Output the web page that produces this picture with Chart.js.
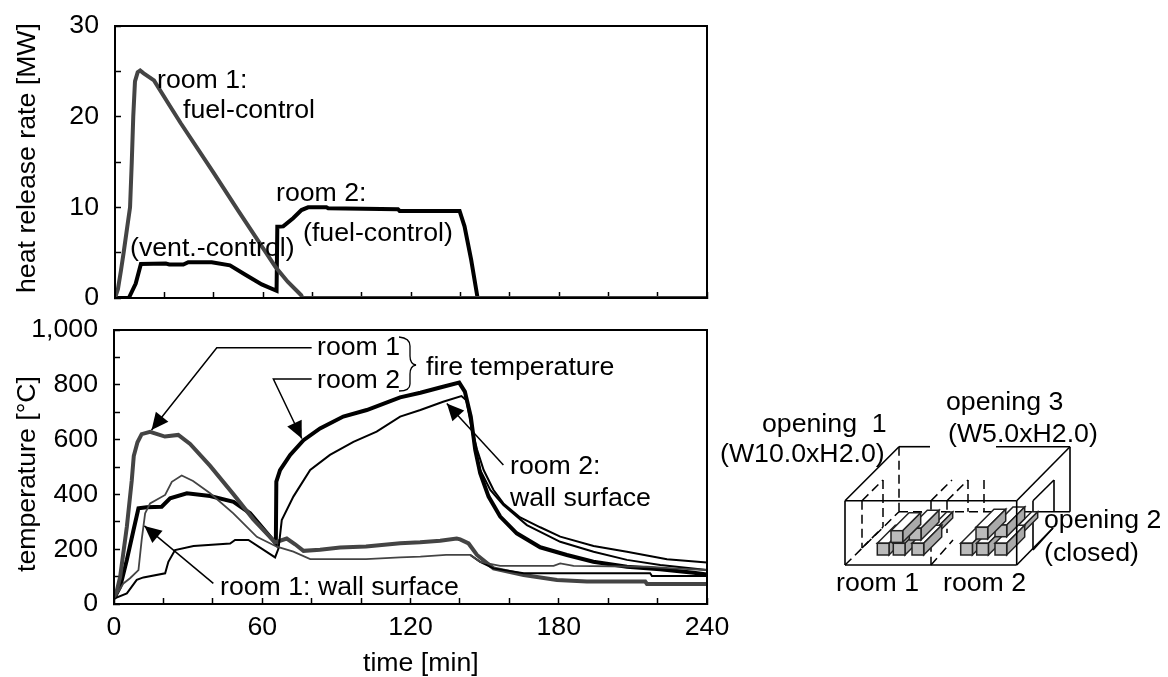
<!DOCTYPE html>
<html>
<head>
<meta charset="utf-8">
<title>Heat release rate and temperature</title>
<script src="https://cdn.jsdelivr.net/npm/chart.js@4"></script>
<style>
    html, body { margin: 0; padding: 0; background: #fff; }
    #page { position: relative; width: 1168px; height: 677px; overflow: hidden; }
    canvas, svg { position: absolute; }
    .note { position: absolute; font: 26.7px "Liberation Sans", Arial, sans-serif; line-height: 30px; white-space: pre; color: #000; }
    .ytitle { transform: translate(-50%, -50%) rotate(-90deg); }
</style>
</head>
<body>
<div id="page">
    <canvas id="hrrChart" width="745" height="320" style="left:0px;top:0px"></canvas>
    <canvas id="tempChart" width="745" height="362" style="left:0px;top:315px"></canvas>
    <svg id="sketch" width="1168" height="677" style="left:0px;top:0px"></svg>

    <div class="note ytitle" style="left:26px;top:158px">heat release rate [MW]</div>
    <div class="note ytitle" style="left:26px;top:474px">temperature [°C]</div>
    <div class="note" style="left:363px;top:647px">time [min]</div>

    <div class="note" style="left:157px;top:64px">room 1:</div>
    <div class="note" style="left:183px;top:94px">fuel-control</div>
    <div class="note" style="left:276px;top:177px">room 2:</div>
    <div class="note" style="left:303px;top:217px">(fuel-control)</div>
    <div class="note" style="left:130px;top:232px">(vent.-control)</div>

    <div class="note" style="left:317px;top:331px">room 1</div>
    <div class="note" style="left:317px;top:364px">room 2</div>
    <div class="note" style="left:426px;top:351px">fire temperature</div>
    <div class="note" style="left:510px;top:450px">room 2:</div>
    <div class="note" style="left:510px;top:482px">wall surface</div>
    <div class="note" style="left:220px;top:571px">room 1: wall surface</div>

    <div class="note" style="left:762px;top:408px">opening  1</div>
    <div class="note" style="left:720px;top:438px">(W10.0xH2.0)</div>
    <div class="note" style="left:946px;top:386px">opening 3</div>
    <div class="note" style="left:948px;top:418px">(W5.0xH2.0)</div>
    <div class="note" style="left:1044px;top:504px">opening 2</div>
    <div class="note" style="left:1044px;top:537px">(closed)</div>
    <div class="note" style="left:836px;top:567px">room 1</div>
    <div class="note" style="left:943px;top:567px">room 2</div>
</div>

<script>
// heat release rate [MW]
const hrrRoom1Time = [0, 0.4, 1.2, 2.4, 3.5, 5, 6.1, 6.8, 7.4, 8.1, 9.2, 10.2, 11.5, 15.8, 21.5, 26.6, 40, 50, 60, 65, 70, 75.5, 76, 240];
const hrrRoom1 = [0, 0, 1, 3, 5, 7.9, 10, 15, 20, 23.9, 24.9, 25.1, 24.8, 24, 21.5, 19.3, 13.8, 9.6, 5.5, 3.45, 1.8, 0.3, 0, 0];
const hrrRoom2Time = [0, 5.6, 8.4, 10.5, 20.6, 22, 27.7, 29.7, 39.2, 46.6, 52.7, 59.5, 65.5, 65.8, 68.2, 72.2, 75.6, 78.3, 85.7, 86.4, 114.7, 115.4, 139.7, 141.7, 144.4, 147, 240];
const hrrRoom2 = [0, 0, 1.6, 3.75, 3.8, 3.7, 3.7, 3.95, 3.95, 3.6, 2.6, 1.5, 0.8, 7.86, 7.9, 8.8, 9.7, 10, 10, 9.9, 9.8, 9.6, 9.6, 7.9, 4.2, 0, 0];

// temperatures [C]
const fireRoom1Time = [0, 1.2, 2.5, 5.2, 7.2, 8, 9.5, 11.2, 14.6, 20.6, 26, 30.8, 38.9, 48.3, 56.4, 65.2, 69.9, 73.3, 76.7, 83.4, 91.5, 102, 115.8, 123.9, 132, 138.7, 140.1, 143.5, 146.9, 153.6, 165.8, 179.3, 191.4, 215, 215.7, 240];
const fireRoom1 = [20, 50, 100, 282, 452, 540, 590, 620, 628, 611, 617, 584, 504, 401, 309, 225, 239, 218, 194, 198, 206, 210, 222, 225, 231, 239, 236, 221, 179, 130, 106, 88, 82, 82, 73, 73];
const wallRoom1Time = [0, 3.8, 6.5, 9.9, 11.2, 12.6, 14.6, 20.7, 23.4, 27.4, 32, 38.9, 48.3, 57.8, 65.9, 72.6, 79.4, 88.8, 102, 115.8, 124, 134.4, 144.2, 148.2, 156.3, 177.9, 180.6, 186, 215.7, 226.5, 240];
const wallRoom1 = [20, 75, 94, 124, 234, 331, 367, 398, 446, 469, 449, 404, 331, 245, 209, 191, 164, 164, 164, 170, 173, 179, 179, 154, 139, 139, 148, 139, 136, 130, 124];
const fireRoom2Time = [0, 2.5, 5.2, 7.9, 9.9, 13.2, 19.3, 22.7, 29.5, 38.9, 48.4, 55.1, 65.5, 65.7, 67.2, 71.3, 76.7, 83.4, 92.8, 102.3, 115.8, 124, 132, 139.7, 142, 144.4, 146.2, 148.2, 151.6, 156.3, 163, 172.5, 183.3, 194, 207.6, 221, 234.6, 240];
const fireRoom2 = [20, 63, 161, 270, 349, 353, 355, 386, 404, 394, 373, 331, 221, 447, 489, 544, 598, 641, 684, 708, 754, 771, 790, 808, 775, 684, 562, 477, 392, 319, 258, 207, 179, 154, 136, 127, 114, 108];
const wallRoom2Time = [0, 5.2, 9.2, 11.9, 20.7, 22, 24.7, 32.2, 47, 49, 54.4, 65.2, 66.6, 67.9, 72.6, 79.4, 87.4, 96.9, 106.3, 115.8, 124, 133.2, 140.6, 142.6, 144.6, 147, 149.6, 153.6, 157.6, 164.4, 172.5, 180.6, 194.1, 207.6, 223.8, 240];
const wallRoom2 = [20, 39, 88, 97, 112, 154, 197, 212, 221, 234, 234, 170, 203, 306, 392, 489, 544, 592, 629, 684, 708, 738, 759, 744, 647, 562, 489, 416, 367, 316, 280, 246, 212, 191, 163, 151];

// two more thin curves that only separate during the decay phase
const decayUpperTime = [144.6, 146.4, 148.2, 152.3, 157.6, 167.1, 180.6, 194.1, 207.6, 221.1, 240];
const decayUpper = [650, 550, 489, 416, 361, 288, 227, 191, 161, 142, 124];
const decayLowerTime = [144.2, 148.2, 153.6, 165.8, 217, 217.7, 240];
const decayLower = [179, 154, 130, 112, 112, 102, 102];

// leader lines of the lower plot as [time, temperature], the last point gets the arrow head
const leaderRoom1 = [[80, 935], [41.6, 935], [15.2, 635]];
const leaderRoom2 = [[80, 821], [64.5, 821], [76, 604]];
const leaderWall1 = [[40.2, 75], [12.3, 285]];
const leaderWall2 = [[157.6, 507], [134.7, 732]];

const FONT_FAMILY = '"Liberation Sans", Arial, sans-serif';
const FONT_SIZE = 26.7;
const DARK = "#444";

function toPoints(times, values) {
    return times.map((t, i) => ({x: t, y: values[i]}));
}

function lineDataset(times, values, color, width) {
    return {
        data: toPoints(times, values),
        borderColor: color,
        borderWidth: width,
        pointRadius: 0,
        tension: 0,
        fill: false
    };
}

// frame around the plot area
const framePlugin = {
    id: "frame",
    afterDatasetsDraw(chart) {
        const a = chart.chartArea;
        const ctx = chart.ctx;
        ctx.save();
        ctx.strokeStyle = "#000";
        ctx.lineWidth = 2;
        ctx.strokeRect(a.left, a.top, a.right - a.left, a.bottom - a.top);
        ctx.restore();
    }
};

// leader lines with a filled arrow head, given in data units
const leaderPlugin = {
    id: "leaders",
    afterDatasetsDraw(chart, args, opts) {
        const ctx = chart.ctx;
        const sx = chart.scales.x;
        const sy = chart.scales.y;
        (opts.lines || []).forEach(line => {
            const pts = line.map(p => [sx.getPixelForValue(p[0]), sy.getPixelForValue(p[1])]);
            ctx.save();
            ctx.strokeStyle = "#000";
            ctx.fillStyle = "#000";
            ctx.lineWidth = 1.5;
            ctx.beginPath();
            pts.forEach((p, i) => i ? ctx.lineTo(p[0], p[1]) : ctx.moveTo(p[0], p[1]));
            ctx.stroke();
            const tip = pts[pts.length - 1];
            const from = pts[pts.length - 2];
            const ang = Math.atan2(tip[1] - from[1], tip[0] - from[0]);
            ctx.translate(tip[0], tip[1]);
            ctx.rotate(ang);
            ctx.beginPath();
            ctx.moveTo(0, 0);
            ctx.lineTo(-17, -8);
            ctx.lineTo(-17, 8);
            ctx.closePath();
            ctx.fill();
            ctx.restore();
        });
    }
};

function makeChart(id, datasets, yMax, yStep, yLabelEvery, showX, pad, xHeight, yWidth, lines) {
    return new Chart(document.getElementById(id), {
        type: "line",
        data: {datasets: datasets},
        plugins: [framePlugin, leaderPlugin],
        options: {
            responsive: false,
            animation: false,
            events: [],
            layout: {padding: pad},
            plugins: {
                legend: {display: false},
                tooltip: {enabled: false},
                leaders: {lines: lines}
            },
            scales: {
                x: {
                    type: "linear",
                    min: 0,
                    max: 240,
                    afterFit: s => { s.height = xHeight; s.paddingLeft = 0; s.paddingRight = 0; },
                    grid: {drawOnChartArea: false, tickLength: -6, tickWidth: 1.5, tickColor: "#000"},
                    border: {color: "#000", width: 2},
                    ticks: {
                        stepSize: 20,
                        autoSkip: false,
                        maxRotation: 0,
                        padding: 14,
                        color: "#000",
                        font: {family: FONT_FAMILY, size: FONT_SIZE},
                        callback: v => (showX && v % 60 === 0) ? String(v) : ""
                    }
                },
                y: {
                    min: 0,
                    max: yMax,
                    afterFit: s => { s.width = yWidth; s.paddingTop = 0; s.paddingBottom = 0; },
                    grid: {drawOnChartArea: false, tickLength: -6, tickWidth: 1.5, tickColor: "#000"},
                    border: {color: "#000", width: 2},
                    ticks: {
                        stepSize: yStep,
                        autoSkip: false,
                        padding: 22,
                        color: "#000",
                        font: {family: FONT_FAMILY, size: FONT_SIZE},
                        callback: v => v % yLabelEvery === 0 ? v.toLocaleString("en-US") : ""
                    }
                }
            }
        }
    });
}

makeChart("hrrChart", [
    lineDataset(hrrRoom1Time, hrrRoom1, DARK, 4),
    lineDataset(hrrRoom2Time, hrrRoom2, "#000", 4)
], 30, 5, 10, false, {top: 26, right: 38, bottom: 0, left: 0}, 22, 115, []);

makeChart("tempChart", [
    lineDataset(wallRoom1Time, wallRoom1, DARK, 1.8),
    lineDataset(wallRoom2Time, wallRoom2, "#000", 2),
    lineDataset(decayUpperTime, decayUpper, "#000", 2),
    lineDataset(decayLowerTime, decayLower, "#000", 2),
    lineDataset(fireRoom1Time, fireRoom1, DARK, 4),
    lineDataset(fireRoom2Time, fireRoom2, "#000", 4)
], 1000, 100, 200, true, {top: 15, right: 38, bottom: 0, left: 0}, 73, 114,
    [leaderRoom1, leaderRoom2, leaderWall1, leaderWall2]);

// brace and the building sketch on the right are plain illustration, not chart data
const svg = document.getElementById("sketch");

function add(tag, attrs) {
    const el = document.createElementNS("http://www.w3.org/2000/svg", tag);
    Object.keys(attrs).forEach(k => el.setAttribute(k, attrs[k]));
    svg.appendChild(el);
}

function solid(x1, y1, x2, y2) {
    add("line", {x1: x1, y1: y1, x2: x2, y2: y2, stroke: "#000", "stroke-width": 1.6});
}

function dashed(x1, y1, x2, y2) {
    add("line", {x1: x1, y1: y1, x2: x2, y2: y2, stroke: "#000", "stroke-width": 1.5, "stroke-dasharray": "9 5"});
}

function crib(x, y, w, depth) {
    add("polygon", {points: `${x},${y} ${x + depth},${y - depth} ${x + w + depth},${y - depth} ${x + w},${y}`, fill: "#fff", stroke: "#222", "stroke-width": 1.5});
    add("polygon", {points: `${x + w},${y} ${x + w + depth},${y - depth} ${x + w + depth},${y + w - depth} ${x + w},${y + w}`, fill: "#aaa", stroke: "#222", "stroke-width": 1.5});
    add("rect", {x: x, y: y, width: w, height: w, fill: "#bbb", stroke: "#222", "stroke-width": 1.5});
}

add("path", {d: "M399 337 Q410 338 410 346 L410 356 Q410 364 416 365 Q410 366 410 374 L410 384 Q410 391 399 391", fill: "none", stroke: "#000", "stroke-width": 1.3});

solid(845, 500.7, 899, 446.7);
solid(899, 446.7, 930, 446.7);
solid(996, 446.7, 1070, 446.7);
solid(1016.7, 500.7, 1070, 446.7);
solid(1070, 446.7, 1070, 511.7);
solid(1016.7, 511.7, 1070, 511.7);
solid(1033, 500.7, 1054, 480);
solid(1054, 480, 1054, 511.7);
solid(1033, 500.7, 1033, 550);
solid(1033, 550, 1053, 528);
solid(1016.7, 565, 1053, 528);
dashed(899, 446.7, 899, 511.7);
dashed(899, 511.7, 1016.7, 511.7);
dashed(845, 565, 899, 511.7);
dashed(862, 500.7, 883, 480);
dashed(883, 480, 883, 527);
dashed(862, 500.7, 862, 548);
dashed(862, 548, 883, 527);
dashed(931, 500.7, 931, 565);
dashed(931, 500.7, 952, 480);
dashed(947, 500.7, 968, 480);
dashed(968, 480, 968, 511.7);
dashed(947, 500.7, 947, 533);
dashed(984, 480, 984, 511.7);
dashed(931, 565, 953, 540);

// third row first, then the front row, the middle row sits on top of it
[[931.7, 527, 6, 15], [1016.7, 526.7, 6, 15],
 [877.3, 543.3, 11.7, 18], [893.3, 543.3, 11.7, 18], [912, 543.3, 11.7, 18], [960.7, 543.3, 11.7, 18], [976.7, 543.3, 11.7, 18], [995, 543.3, 11.7, 18],
 [909.3, 528.3, 11.7, 18], [891, 530.7, 11.7, 18], [995, 525, 11.7, 18], [976, 527.3, 11.7, 18]]
    .forEach(c => crib(c[0], c[1], c[2], c[3]));

solid(845, 500.7, 1016.7, 500.7);
solid(845, 500.7, 845, 565);
solid(845, 565, 1016.7, 565);
solid(1016.7, 500.7, 1016.7, 565);
</script>
</body>
</html>
